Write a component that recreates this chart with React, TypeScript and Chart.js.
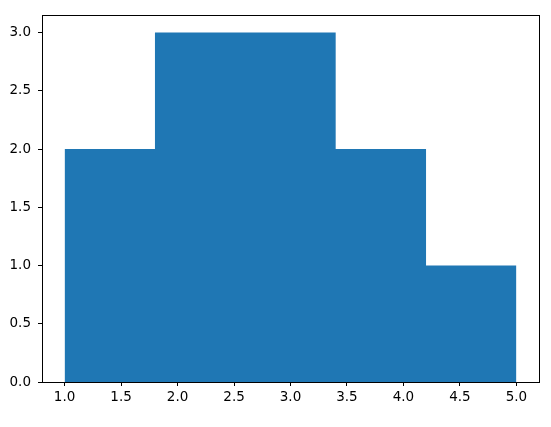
import React, { useEffect, useRef } from "react";
import { Chart, registerables } from "chart.js";

Chart.register(...registerables);

const binEdges = [1.0, 1.8, 2.6, 3.4, 4.2, 5.0];
const counts = [2, 3, 3, 2, 1];
const xTicks = [1.0, 1.5, 2.0, 2.5, 3.0, 3.5, 4.0, 4.5, 5.0];
const yTicks = [0.0, 0.5, 1.0, 1.5, 2.0, 2.5, 3.0];

const framePlugin = {
  id: "frame",
  afterDatasetsDraw(chart: any) {
    const { ctx, chartArea } = chart;
    ctx.save();
    ctx.strokeStyle = "#000";
    ctx.lineWidth = 1;
    ctx.strokeRect(
      Math.round(chartArea.left) + 0.5,
      Math.round(chartArea.top) + 0.5,
      Math.round(chartArea.right - chartArea.left),
      Math.round(chartArea.bottom - chartArea.top)
    );
    ctx.restore();
  },
};

export default function App() {
  const ref = useRef<HTMLCanvasElement | null>(null);
  useEffect(() => {
    if (!ref.current) return;
    const font = { family: "DejaVu Sans", size: 13.5 };
    // step outline of the histogram: each edge carries the count of the bin to its right
    const points = binEdges.map((e, i) => ({
      x: e,
      y: counts[Math.min(i, counts.length - 1)],
    }));
    const chart = new Chart(ref.current, {
      type: "line",
      data: {
        datasets: [
          {
            data: points,
            stepped: "before" as any,
            backgroundColor: "#1f77b4",
            borderColor: "#1f77b4",
            borderWidth: 0,
            pointRadius: 0,
            fill: "origin",
          },
        ],
      },
      plugins: [framePlugin],
      options: {
        responsive: false,
        animation: false,
        events: [],
        layout: { padding: { top: 13, right: 12, left: 0, bottom: 0 } },
        plugins: { legend: { display: false }, tooltip: { enabled: false } },
        scales: {
          x: {
            type: "linear",
            min: 0.8,
            max: 5.2,
            offset: false,
            afterBuildTicks: (s: any) => {
              s.ticks = xTicks.map((v) => ({ value: v }));
            },
            afterFit: (s: any) => {
              s.height = 45;
            },
            ticks: {
              color: "#000",
              font,
              padding: 3,
              maxRotation: 0,
              autoSkip: false,
              callback: (v: any) => Number(v).toFixed(1),
            },
            grid: {
              display: true,
              offset: false,
              drawOnChartArea: false,
              tickLength: 4,
              tickColor: "#000",
            },
            border: { display: true, color: "#000" },
          },
          y: {
            type: "linear",
            min: 0,
            max: 3.15,
            afterBuildTicks: (s: any) => {
              s.ticks = yTicks.map((v) => ({ value: v }));
            },
            afterFit: (s: any) => {
              s.width = 42;
            },
            ticks: {
              color: "#000",
              font,
              padding: 7,
              autoSkip: false,
              callback: (v: any) => Number(v).toFixed(1),
            },
            grid: {
              display: true,
              drawOnChartArea: false,
              tickLength: 4,
              tickColor: "#000",
            },
            border: { display: true, color: "#000" },
          },
        },
      },
    } as any);
    return () => chart.destroy();
  }, []);
  return (
    <div style={{ position: "fixed", left: 0, top: 0, width: 551, height: 427, background: "#fff" }}>
      <canvas ref={ref} width={551} height={427} style={{ width: 551, height: 427 }} />
    </div>
  );
}
